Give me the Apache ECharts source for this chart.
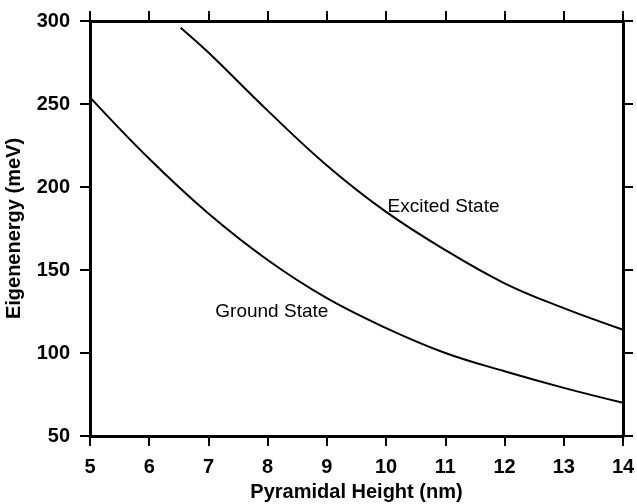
<!DOCTYPE html>
<html>
<head>
<meta charset="utf-8">
<script src="https://cdn.jsdelivr.net/npm/echarts@6/dist/echarts.min.js"></script>
<style>
  html, body { margin: 0; padding: 0; background: #fff; }
  #chart { width: 637px; height: 504px; }
</style>
</head>
<body>
<div id="chart"></div>
<script>
// Quantum-dot eigenenergies versus pyramidal height
const groundHeights = [5, 6, 7, 8, 9, 10, 11, 12, 13, 14];
const groundEnergy = [254, 217, 184, 156, 133, 115, 100, 89, 79, 70];

const excitedHeights = [6.53, 7, 8, 9, 10, 11, 12, 13, 14];
const excitedEnergy = [296, 281, 246, 213, 185, 162, 142, 127, 114];

// Curve annotations, placed in data coordinates
const groundLabelAt = [8.07, 125];
const excitedLabelAt = [10.97, 188];

const xTitle = 'Pyramidal Height (nm)';
const yTitle = 'Eigenenergy (meV)';

const FONT = '"Liberation Sans", Arial, sans-serif';

function pairs(xs, ys) {
  return xs.map((x, i) => [x, ys[i]]);
}

function curveLabel(text, at) {
  return {
    symbol: 'circle',
    symbolSize: 0,
    data: [{
      coord: at,
      label: {
        show: true,
        position: 'inside',
        formatter: text,
        color: '#000',
        fontFamily: FONT,
        fontSize: 19
      }
    }]
  };
}

const axisLineStyle = { show: true, lineStyle: { color: '#000', width: 3 } };
const tickStyle = { show: true, inside: false, length: 10, lineStyle: { color: '#000', width: 2 } };
const tickLabel = { color: '#000', fontFamily: FONT, fontWeight: 'bold', fontSize: 20 };
const titleText = { color: '#000', fontFamily: FONT, fontWeight: 'bold', fontSize: 20 };

const chart = echarts.init(document.getElementById('chart'), null, { renderer: 'canvas' });
chart.setOption({
  animation: false,
  backgroundColor: '#fff',
  grid: { left: 90, right: 14, top: 21, bottom: 68, containLabel: false, outerBoundsMode: 'none' },
  xAxis: [
    {
      type: 'value', min: 5, max: 14, interval: 1, position: 'bottom',
      name: xTitle, nameLocation: 'middle', nameGap: 46,
      nameTextStyle: titleText,
      axisLine: axisLineStyle, axisTick: tickStyle,
      axisLabel: Object.assign({ margin: 21 }, tickLabel),
      splitLine: { show: false }
    },
    {
      type: 'value', min: 5, max: 14, interval: 1, position: 'top',
      axisLine: axisLineStyle, axisTick: tickStyle,
      axisLabel: { show: false }, splitLine: { show: false }
    }
  ],
  yAxis: [
    {
      type: 'value', min: 50, max: 300, interval: 50, position: 'left',
      name: yTitle, nameLocation: 'middle', nameGap: 66, nameRotate: 90,
      nameTextStyle: titleText,
      axisLine: axisLineStyle, axisTick: tickStyle,
      axisLabel: Object.assign({ margin: 20 }, tickLabel),
      splitLine: { show: false }
    },
    {
      type: 'value', min: 50, max: 300, interval: 50, position: 'right',
      axisLine: axisLineStyle, axisTick: tickStyle,
      axisLabel: { show: false }, splitLine: { show: false }
    }
  ],
  series: [
    {
      name: 'Ground State', type: 'line', smooth: 0.4, showSymbol: false,
      data: pairs(groundHeights, groundEnergy),
      lineStyle: { color: '#000', width: 2 },
      markPoint: curveLabel('Ground State', groundLabelAt)
    },
    {
      name: 'Excited State', type: 'line', smooth: 0.4, showSymbol: false,
      data: pairs(excitedHeights, excitedEnergy),
      lineStyle: { color: '#000', width: 2 },
      markPoint: curveLabel('Excited State', excitedLabelAt)
    }
  ]
});
</script>
</body>
</html>
